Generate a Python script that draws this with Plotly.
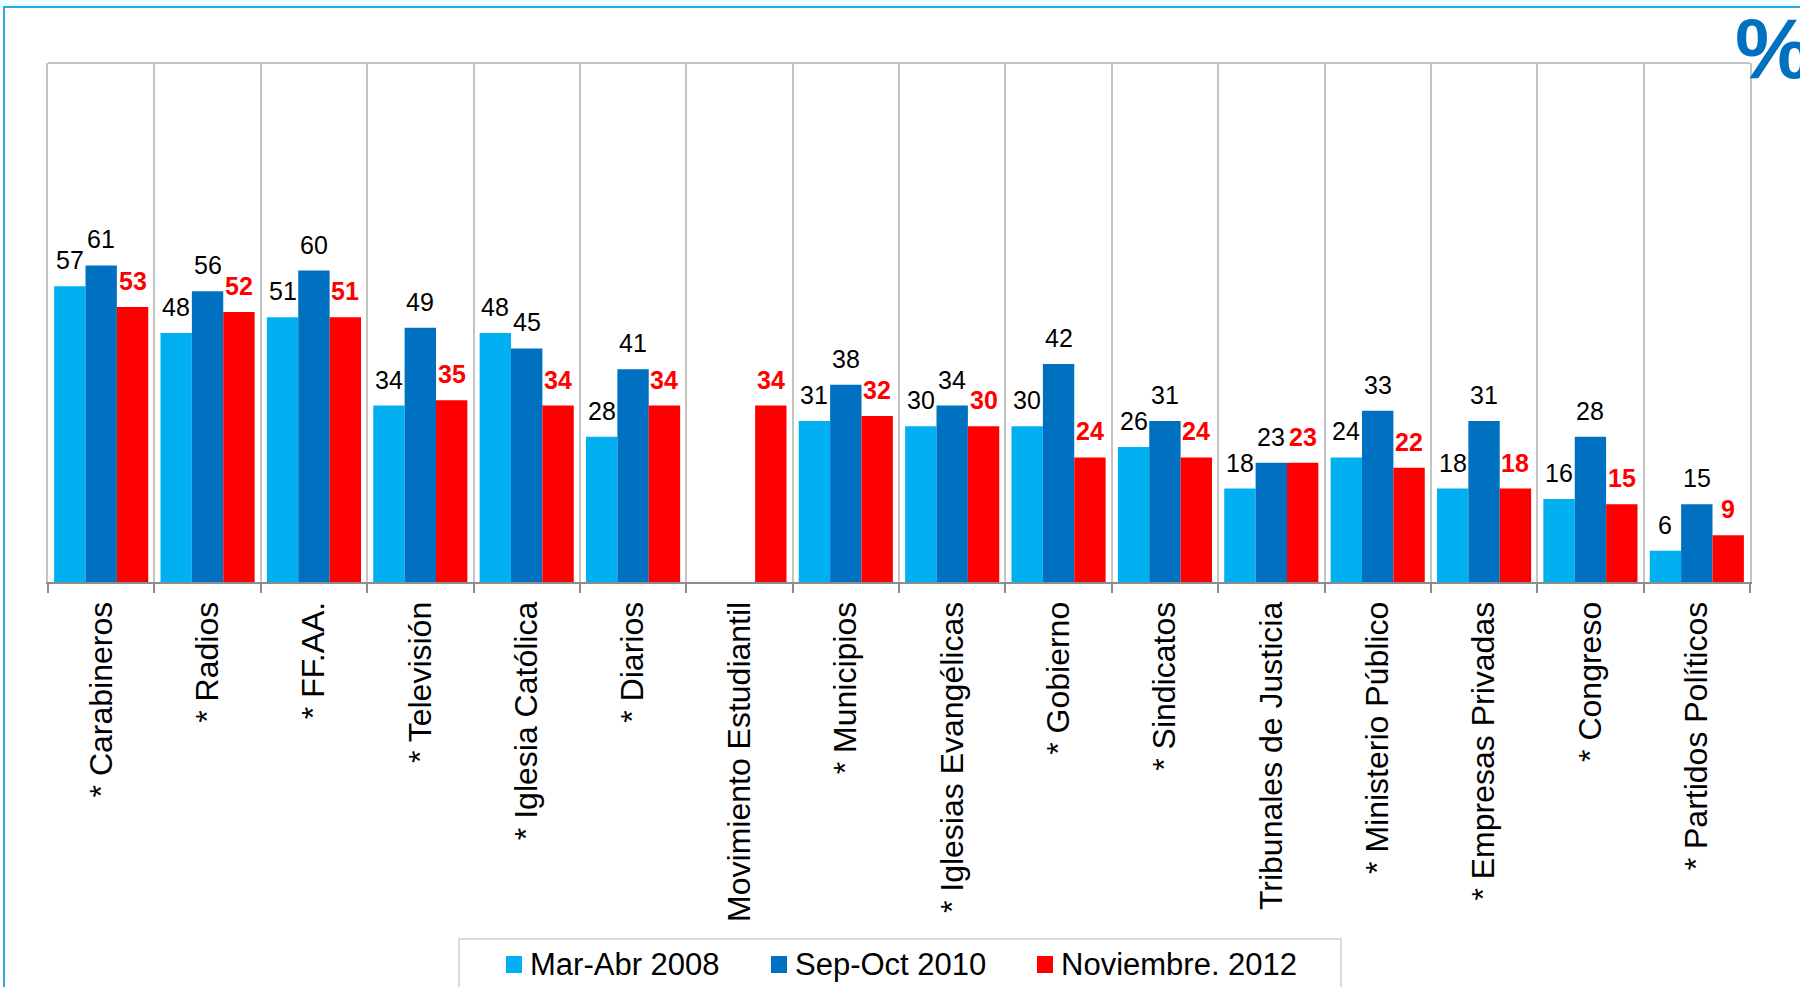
import plotly.graph_objects as go

categories = ["* Carabineros", "* Radios", "* FF.AA.", "* Televisión", "* Iglesia Católica",
              "* Diarios", "Movimiento Estudiantil", "* Municipios", "* Iglesias Evangélicas",
              "* Gobierno", "* Sindicatos", "Tribunales de Justicia", "* Ministerio Público",
              "* Empresas Privadas", "* Congreso", "* Partidos Políticos"]
series_names = ["Mar-Abr 2008", "Sep-Oct 2010", "Noviembre. 2012"]
mar_abr_2008 = [57, 48, 51, 34, 48, 28, None, 31, 30, 30, 26, 18, 24, 18, 16, 6]
sep_oct_2010 = [61, 56, 60, 49, 45, 41, None, 38, 34, 42, 31, 23, 33, 31, 28, 15]
nov_2012 = [53, 52, 51, 35, 34, 34, 34, 32, 30, 24, 24, 23, 22, 18, 15, 9]
colors = ["#00B0F0", "#0070C0", "#FF0000"]

W, H = 1800, 987
L, R, T, B = 48, 50, 63, 405
plot_w = W - L - R
plot_h = H - T - B
BARGAP = 0.115
n = len(categories)
xs = list(range(n))

def px_x(p):
    return (p - L) / plot_w

def px_y(p):
    return (H - B - p) / plot_h

FONT = "Liberation Sans, Arial, sans-serif"

fig = go.Figure()
all_series = [mar_abr_2008, sep_oct_2010, nov_2012]
for name, vals, col in zip(series_names, all_series, colors):
    fig.add_trace(go.Bar(x=xs, y=vals, name=name, showlegend=False,
                         marker=dict(color=col, line=dict(width=0))))

bar_w_px = plot_w / n * (1 - BARGAP) / 3
annotations = []
for j, vals in enumerate(all_series):
    red = (j == 2)
    for i, v in enumerate(vals):
        if v is None:
            continue
        annotations.append(dict(
            x=i, y=v, xref="x", yref="y", text=f"<b>{v}</b>" if red else str(v),
            showarrow=False, xshift=(j - 1) * bar_w_px, yshift=26, yanchor="middle",
            font=dict(family=FONT, size=25, color="#FF0000" if red else "#000000")))

annotations.append(dict(
    x=px_x(1733), y=px_y(48), xref="paper", yref="paper", text="<b>%</b>", showarrow=False,
    xanchor="left", yanchor="middle", font=dict(family=FONT, size=86, color="#0070C0")))

shapes = [
    # light cyan band at the top
    dict(type="rect", xref="paper", yref="paper", x0=px_x(-20), x1=px_x(1850),
         y0=px_y(7), y1=px_y(-20), fillcolor="#EEFFFF", line=dict(width=0), layer="below"),
    # outer frame
    dict(type="rect", xref="paper", yref="paper", x0=px_x(4), x1=px_x(1900),
         y0=px_y(1100), y1=px_y(7), line=dict(color="#29ABE2", width=2), layer="below"),
    # plot area top border
    dict(type="line", xref="paper", yref="paper", x0=0, x1=1, y0=1, y1=1,
         line=dict(color="#C4C4C4", width=2)),
    # legend box
    dict(type="rect", xref="paper", yref="paper", x0=px_x(459), x1=px_x(1341),
         y0=px_y(1000), y1=px_y(939), fillcolor="white",
         line=dict(color="#D9D9D9", width=2)),
]

# legend entries (square key + label)
legend_key_x = [506, 771, 1037]
for name, col, kx in zip(series_names, colors, legend_key_x):
    shapes.append(dict(type="rect", xref="paper", yref="paper", x0=px_x(kx), x1=px_x(kx + 16),
                       y0=px_y(973), y1=px_y(956), fillcolor=col, line=dict(width=0)))
    annotations.append(dict(x=px_x(kx + 22), y=px_y(965), xref="paper", yref="paper",
                            text=name, showarrow=False, xanchor="left", yanchor="middle",
                            font=dict(family=FONT, size=31, color="#000000")))

fig.update_layout(
    width=W, height=H,
    margin=dict(l=L, r=R, t=T, b=B, autoexpand=False),
    paper_bgcolor="white", plot_bgcolor="white",
    barmode="group", bargap=BARGAP, bargroupgap=0,
    font=dict(family=FONT, color="#000000"),
    showlegend=False,
    annotations=annotations,
    shapes=shapes,
)
fig.update_xaxes(
    range=[-0.5, n - 0.5], tickvals=xs, ticktext=categories, tickangle=-90,
    tickfont=dict(family=FONT, size=32, color="#000000"), ticks="", ticklabelstandoff=5,
    showgrid=False, zeroline=False, showline=True, linecolor="#8C8C8C", linewidth=2,
    minor=dict(tickvals=[i - 0.5 for i in range(n + 1)], showgrid=True, gridcolor="#C4C4C4",
               gridwidth=2, ticks="outside", ticklen=9, tickcolor="#8C8C8C", tickwidth=2),
)
fig.update_yaxes(range=[0, 100], showticklabels=False, showgrid=False, zeroline=False,
                 showline=True, mirror=True, linecolor="#C4C4C4", linewidth=2, ticks="")

fig.write_html("out.html", config={"displayModeBar": False},
               post_script="document.body.style.margin='0';document.body.style.overflow='hidden';")
